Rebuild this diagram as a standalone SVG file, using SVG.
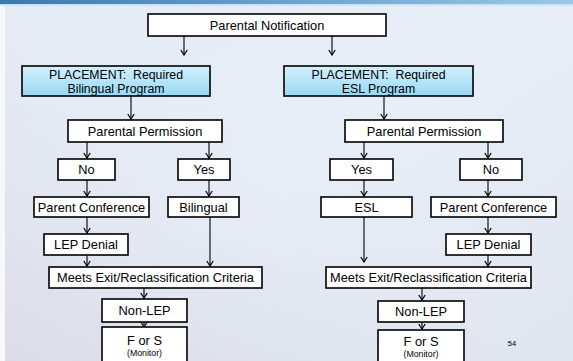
<svg xmlns="http://www.w3.org/2000/svg" width="573" height="361" viewBox="0 0 573 361">
<style>
.box{fill:#ffffff;stroke:#000000;stroke-width:1.6}
.pl{fill:url(#plg);stroke:#000000;stroke-width:1.6}
.t{font-family:"Liberation Sans",Arial,sans-serif;font-size:12.8px;fill:#000000;text-anchor:middle;white-space:pre}
.p{font-family:"Liberation Sans",Arial,sans-serif;font-size:12.3px;fill:#000000;text-anchor:middle;white-space:pre}
.s{font-family:"Liberation Sans",Arial,sans-serif;font-size:8.2px;fill:#000000;text-anchor:middle}
.c{fill:none;stroke:#000000;stroke-width:1.1}
</style>
<defs>
<linearGradient id="bg" x1="0" y1="0" x2="1" y2="1">
<stop offset="0" stop-color="#e4ebf5"/>
<stop offset="0.5" stop-color="#e8eef7"/>
<stop offset="1" stop-color="#e0e6ef"/>
</linearGradient>
<linearGradient id="bg2" x1="0" y1="1" x2="0.55" y2="0.35">
<stop offset="0" stop-color="#d8d9e6" stop-opacity="0.9"/>
<stop offset="1" stop-color="#e4e8f2" stop-opacity="0"/>
</linearGradient>
<linearGradient id="band" x1="0" y1="0" x2="1" y2="0">
<stop offset="0" stop-color="#3c78ad"/>
<stop offset="0.5" stop-color="#6aa3cf"/>
<stop offset="1" stop-color="#9cc8e6"/>
</linearGradient>
<linearGradient id="plg" x1="0" y1="0" x2="0" y2="1">
<stop offset="0" stop-color="#d2f0fd"/>
<stop offset="1" stop-color="#99d8f4"/>
</linearGradient>
<marker id="ah" viewBox="0 0 8 8" refX="7" refY="4" markerWidth="8" markerHeight="8" markerUnits="userSpaceOnUse" orient="auto">
<polyline points="2,0.8 7,4 2,7.2" fill="none" stroke="#000000" stroke-width="1.2"/>
</marker>
</defs>
<rect x="0" y="0" width="573" height="361" fill="url(#bg)"/>
<rect x="0" y="0" width="573" height="361" fill="url(#bg2)"/>
<rect x="0" y="0" width="5" height="361" fill="#f7f8fb"/>
<rect x="0" y="0" width="573" height="4" fill="url(#band)"/>
<rect x="0" y="4" width="573" height="1.5" fill="#c4e0f2"/>

<g id="connectors">
<line class="c" x1="184" y1="36" x2="184" y2="55" marker-end="url(#ah)"/>
<line class="c" x1="332" y1="36" x2="332" y2="55" marker-end="url(#ah)"/>
<line class="c" x1="131" y1="96" x2="131" y2="119" marker-end="url(#ah)"/>
<line class="c" x1="384" y1="96" x2="384" y2="119" marker-end="url(#ah)"/>
<line class="c" x1="87" y1="142" x2="87" y2="158" marker-end="url(#ah)"/>
<line class="c" x1="209" y1="142" x2="209" y2="158" marker-end="url(#ah)"/>
<line class="c" x1="87" y1="180" x2="87" y2="196" marker-end="url(#ah)"/>
<line class="c" x1="209" y1="180" x2="209" y2="196" marker-end="url(#ah)"/>
<line class="c" x1="87" y1="217" x2="87" y2="233" marker-end="url(#ah)"/>
<line class="c" x1="87" y1="255" x2="87" y2="266" marker-end="url(#ah)"/>
<line class="c" x1="210" y1="217" x2="210" y2="266" marker-end="url(#ah)"/>
<line class="c" x1="144" y1="288" x2="144" y2="298" marker-end="url(#ah)"/>
<line class="c" x1="144" y1="322" x2="144" y2="327" marker-end="url(#ah)"/>
<line class="c" x1="364" y1="142" x2="364" y2="158" marker-end="url(#ah)"/>
<line class="c" x1="488" y1="142" x2="488" y2="158" marker-end="url(#ah)"/>
<line class="c" x1="364" y1="180" x2="364" y2="196" marker-end="url(#ah)"/>
<line class="c" x1="488" y1="180" x2="488" y2="196" marker-end="url(#ah)"/>
<line class="c" x1="488" y1="217" x2="488" y2="233" marker-end="url(#ah)"/>
<line class="c" x1="488" y1="255" x2="488" y2="266" marker-end="url(#ah)"/>
<line class="c" x1="364" y1="217" x2="364" y2="262" marker-end="url(#ah)"/>
<line class="c" x1="422" y1="288" x2="422" y2="300" marker-end="url(#ah)"/>
<line class="c" x1="422" y1="322" x2="422" y2="329" marker-end="url(#ah)"/>
</g>

<g id="notification"><rect class="box" x="148" y="14" width="238" height="22"/><text class="t" x="267" y="29.5">Parental Notification</text></g>

<g id="placement-bilingual"><rect class="pl" x="22" y="66" width="188" height="30"/><text class="p" x="116" y="78.8">PLACEMENT:  Required</text><text class="p" x="116" y="92.6">Bilingual Program</text></g>
<g id="placement-esl"><rect class="pl" x="284" y="66" width="189" height="30"/><text class="p" x="378.5" y="78.8">PLACEMENT:  Required</text><text class="p" x="378.5" y="92.6">ESL Program</text></g>

<g id="permission-left"><rect class="box" x="68" y="120" width="154" height="22"/><text class="t" x="145" y="135.5">Parental Permission</text></g>
<g id="no-left"><rect class="box" x="58" y="159" width="57" height="21"/><text class="t" x="86.5" y="174">No</text></g>
<g id="yes-left"><rect class="box" x="178" y="159" width="52" height="21"/><text class="t" x="204" y="174">Yes</text></g>
<g id="conference-left"><rect class="box" x="34" y="197" width="115" height="20"/><text class="t" x="91.5" y="211.5">Parent Conference</text></g>
<g id="bilingual"><rect class="box" x="168" y="197" width="71" height="20"/><text class="t" x="203.5" y="211.5">Bilingual</text></g>
<g id="denial-left"><rect class="box" x="44" y="234" width="84" height="21"/><text class="t" x="86" y="249">LEP Denial</text></g>
<g id="exit-left"><rect class="box" x="49" y="267" width="213" height="21"/><text class="t" x="155.5" y="282">Meets Exit/Reclassification Criteria</text></g>
<g id="nonlep-left"><rect class="box" x="102" y="299" width="85" height="23"/><text class="t" x="144.5" y="315">Non-LEP</text></g>
<g id="fs-left"><rect class="box" x="102" y="327" width="85" height="40"/><text class="t" x="144.5" y="345">F or S</text><text class="s" x="144.5" y="356" textLength="35" lengthAdjust="spacingAndGlyphs">(Monitor)</text></g>

<g id="permission-right"><rect class="box" x="345" y="120" width="158" height="22"/><text class="t" x="424" y="135.5">Parental Permission</text></g>
<g id="yes-right"><rect class="box" x="330" y="159" width="63" height="21"/><text class="t" x="361.5" y="174">Yes</text></g>
<g id="no-right"><rect class="box" x="460" y="159" width="62" height="21"/><text class="t" x="491" y="174">No</text></g>
<g id="esl"><rect class="box" x="321" y="197" width="91" height="20"/><text class="t" x="366.5" y="211.5">ESL</text></g>
<g id="conference-right"><rect class="box" x="431" y="197" width="125" height="20"/><text class="t" x="493.5" y="211.5">Parent Conference</text></g>
<g id="denial-right"><rect class="box" x="446" y="234" width="85" height="21"/><text class="t" x="488.5" y="249">LEP Denial</text></g>
<g id="exit-right"><rect class="box" x="326" y="267" width="205" height="21"/><text class="t" x="428.5" y="282">Meets Exit/Reclassification Criteria</text></g>
<g id="nonlep-right"><rect class="box" x="378" y="301" width="86" height="21"/><text class="t" x="421" y="316">Non-LEP</text></g>
<g id="fs-right"><rect class="box" x="378" y="330" width="86" height="37"/><text class="t" x="421" y="346">F or S</text><text class="s" x="421" y="357" textLength="35" lengthAdjust="spacingAndGlyphs">(Monitor)</text></g>

<text class="s" x="512" y="346" style="font-size:7.5px">54</text>
</svg>
